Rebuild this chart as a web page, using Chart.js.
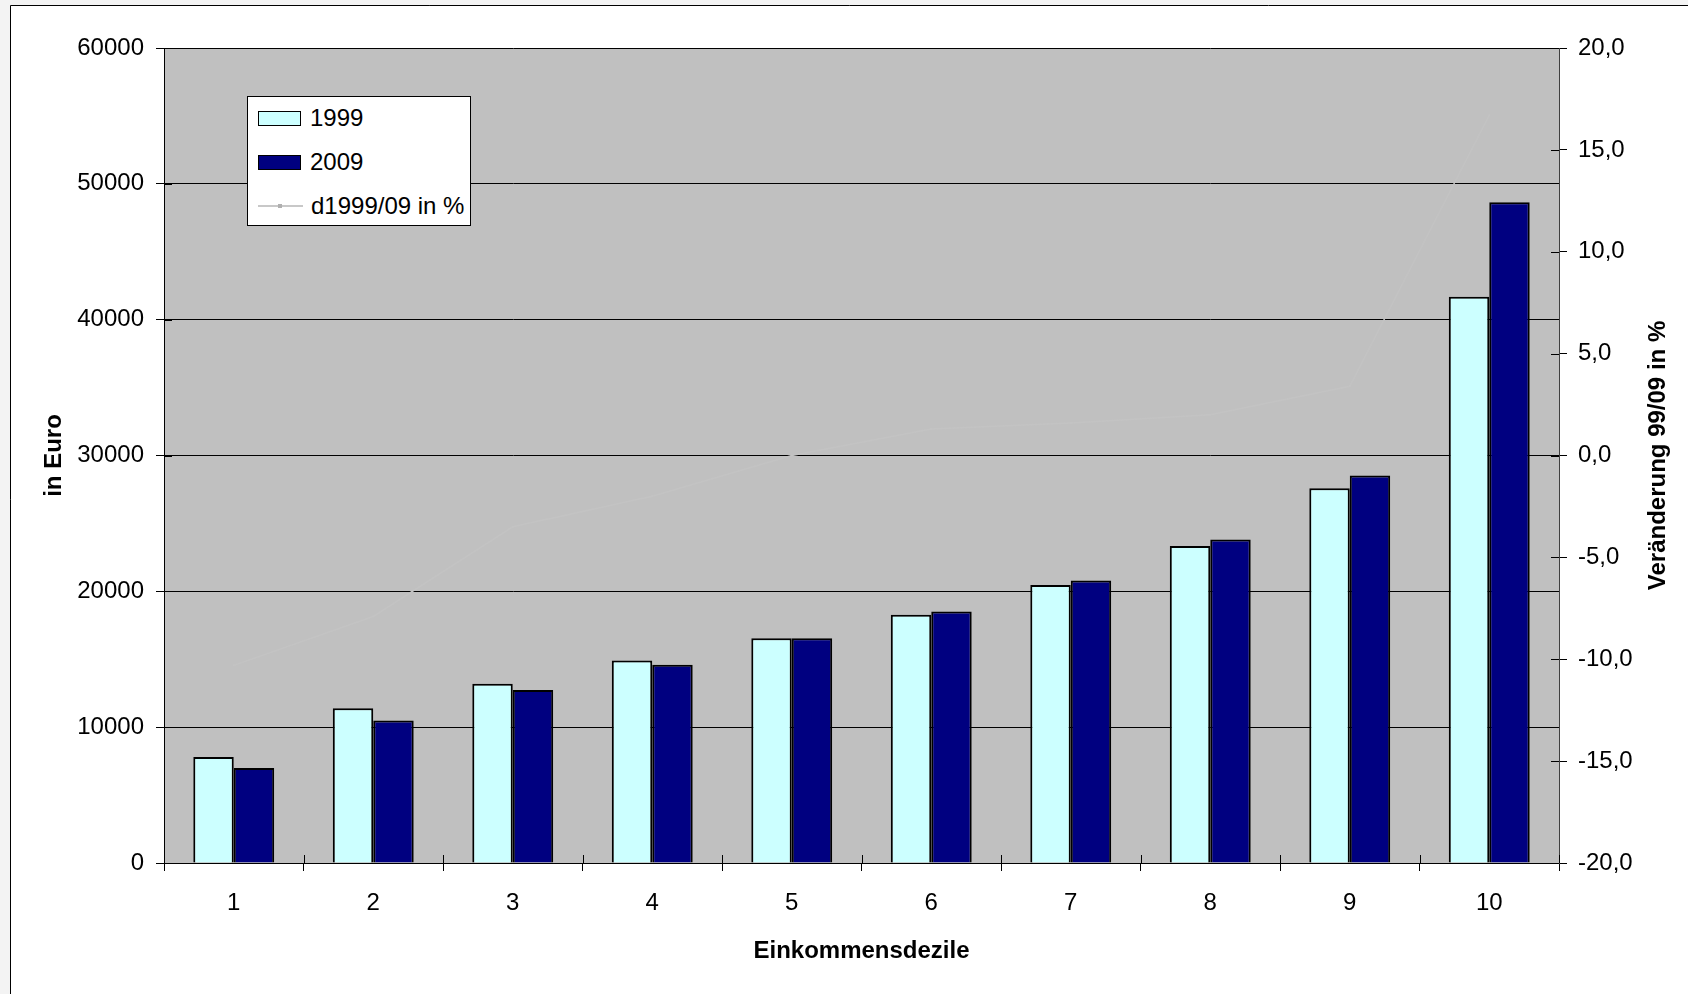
<!DOCTYPE html>
<html>
<head>
<meta charset="utf-8">
<script src="https://cdn.jsdelivr.net/npm/chart.js@4.4.1/dist/chart.umd.min.js"></script>
<style>
  body { margin: 0; background: #f3f3f3; }
  #wrap { position: relative; width: 1688px; height: 994px; }
  #legend {
    position: absolute; left: 247px; top: 96px; width: 222px; height: 128px;
    background: #fff; border: 1px solid #000;
    font-family: "Liberation Sans", Arial, sans-serif; font-size: 24px; color: #000;
  }
  .item { position: absolute; left: 10px; height: 30px; display: flex; align-items: center; }
  .box { width: 41px; height: 13px; border: 1.5px solid #000; margin-right: 9px; }
  .line { width: 45px; height: 2px; background: #c8c8c8; margin-right: 8px; position: relative; }
  .line span { position: absolute; left: 20px; top: -1px; width: 4px; height: 4px; background: #b0b0b0; }
</style>
</head>
<body>
<div id="wrap">
  <canvas id="chart" width="1688" height="994"></canvas>
  <div id="legend"></div>
</div>
<script>
// Einkommensdezile
var categories = ['1', '2', '3', '4', '5', '6', '7', '8', '9', '10'];
var values_1999 = [7800, 11400, 13200, 14900, 16550, 18280, 20470, 23340, 27590, 41680];
var values_2009 = [7000, 10500, 12740, 14600, 16550, 18520, 20790, 23810, 28520, 48650];
var change_pct = [-10.3, -7.9, -3.5, -2.0, 0.0, 1.3, 1.6, 2.0, 3.4, 16.7];

var left_ticks = [0, 10000, 20000, 30000, 40000, 50000, 60000];
var right_ticks = [-20, -15, -10, -5, 0, 5, 10, 15, 20];

var font_family = '"Liberation Sans", Arial, sans-serif';

// frame, plot area background, inner half of tick marks, right axis title
var deco = {
  id: 'deco',
  beforeDraw: function(chart) {
    var ctx = chart.ctx, a = chart.chartArea;
    ctx.save();
    ctx.fillStyle = '#f3f3f3';
    ctx.fillRect(0, 0, chart.width, chart.height);
    ctx.fillStyle = '#ffffff';
    ctx.fillRect(10, 5, chart.width, chart.height);
    ctx.strokeStyle = '#000';
    ctx.lineWidth = 1;
    ctx.beginPath();
    ctx.moveTo(10.5, chart.height);
    ctx.lineTo(10.5, 5.5);
    ctx.lineTo(chart.width, 5.5);
    ctx.stroke();
    ctx.fillStyle = '#c0c0c0';
    ctx.fillRect(a.left, a.top, a.right - a.left, a.bottom - a.top);
    ctx.restore();
  },
  afterDraw: function(chart) {
    var ctx = chart.ctx, a = chart.chartArea;
    var x = chart.scales.x, y = chart.scales.y, y1 = chart.scales.y1;
    ctx.save();
    ctx.strokeStyle = '#000';
    ctx.lineWidth = 1;
    ctx.beginPath();
    y.ticks.forEach(function(t) {
      var py = Math.round(y.getPixelForValue(t.value)) + 0.5;
      ctx.moveTo(a.left, py); ctx.lineTo(a.left + 8, py);
    });
    y1.ticks.forEach(function(t) {
      var py = Math.round(y1.getPixelForValue(t.value)) + 0.5;
      ctx.moveTo(a.right, py); ctx.lineTo(a.right - 8, py);
    });
    var n = categories.length;
    for (var i = 0; i <= n; i++) {
      var px = Math.round(x.left + i * (x.width / n)) + 0.5;
      ctx.moveTo(px, a.bottom); ctx.lineTo(px, a.bottom - 8);
    }
    ctx.stroke();

    ctx.fillStyle = '#000';
    ctx.font = 'bold 24px ' + font_family;
    ctx.textAlign = 'center';
    ctx.textBaseline = 'middle';
    ctx.translate(1658, (a.top + a.bottom) / 2);
    ctx.rotate(-Math.PI / 2);
    ctx.fillText('Veränderung 99/09 in %', 0, 0);
    ctx.restore();
  }
};

var ctx = document.getElementById('chart').getContext('2d');

var chart = new Chart(ctx, {
  type: 'bar',
  data: {
    labels: categories,
    datasets: [
      {
        label: '1999',
        data: values_1999,
        backgroundColor: '#ccffff',
        borderColor: '#000',
        borderWidth: 2,
        barPercentage: 1.0,
        categoryPercentage: 0.58,
        yAxisID: 'y',
        order: 2
      },
      {
        label: '2009',
        data: values_2009,
        backgroundColor: '#000080',
        borderColor: '#000',
        borderWidth: 2,
        barPercentage: 1.0,
        categoryPercentage: 0.58,
        yAxisID: 'y',
        order: 2
      },
      {
        type: 'line',
        label: 'd1999/09 in %',
        data: change_pct,
        borderColor: '#c3c3c3',
        borderWidth: 1.5,
        pointRadius: 1,
        pointBackgroundColor: '#c3c3c3',
        pointBorderWidth: 0,
        tension: 0,
        yAxisID: 'y1',
        order: 1
      }
    ]
  },
  options: {
    responsive: false,
    animation: false,
    layout: { padding: { top: 48, left: 0, right: 0, bottom: 0 } },
    plugins: {
      legend: { display: false },
      tooltip: { enabled: false }
    },
    scales: {
      x: {
        afterFit: function(s) { s.height = 131; },
        grid: {
          display: true,
          drawOnChartArea: false,
          drawTicks: true,
          tickLength: 8,
          color: '#000'
        },
        border: { color: '#000' },
        ticks: {
          color: '#000',
          padding: 18,
          font: { size: 24, family: font_family }
        },
        title: {
          display: true,
          text: 'Einkommensdezile',
          color: '#000',
          padding: { top: 0, bottom: 28 },
          font: { size: 24, weight: 'bold', family: font_family }
        }
      },
      y: {
        position: 'left',
        min: 0,
        max: 60000,
        afterFit: function(s) { s.width = 164; },
        afterBuildTicks: function(s) { s.ticks = left_ticks.map(function(v) { return { value: v }; }); },
        grid: {
          color: '#000',
          lineWidth: 1,
          drawTicks: true,
          tickLength: 8
        },
        border: { color: '#000' },
        ticks: {
          color: '#000',
          padding: 12,
          font: { size: 24, family: font_family },
          callback: function(v) { return String(v); }
        },
        title: {
          display: true,
          text: 'in Euro',
          color: '#000',
          padding: { top: 40, bottom: 0 },
          font: { size: 24, weight: 'bold', family: font_family }
        }
      },
      y1: {
        position: 'right',
        min: -20,
        max: 20,
        afterFit: function(s) { s.width = 129; },
        afterBuildTicks: function(s) { s.ticks = right_ticks.map(function(v) { return { value: v }; }); },
        grid: {
          drawOnChartArea: false,
          drawTicks: true,
          tickLength: 8,
          color: '#000'
        },
        border: { color: '#404040' },
        ticks: {
          color: '#000',
          padding: 11,
          font: { size: 24, family: font_family },
          callback: function(v) { return v.toFixed(1).replace('.', ','); }
        }
      }
    }
  },
  plugins: [deco]
});

// legend inside the plot area, built from the datasets
var legend = document.getElementById('legend');
chart.data.datasets.forEach(function(ds, i) {
  var row = document.createElement('div');
  row.className = 'item';
  row.style.top = (6 + i * 44) + 'px';
  var mark = document.createElement('div');
  if (ds.type === 'line') {
    mark.className = 'line';
    mark.appendChild(document.createElement('span'));
  } else {
    mark.className = 'box';
    mark.style.background = ds.backgroundColor;
  }
  var txt = document.createElement('span');
  txt.textContent = ds.label;
  row.appendChild(mark);
  row.appendChild(txt);
  legend.appendChild(row);
});
</script>
</body>
</html>
